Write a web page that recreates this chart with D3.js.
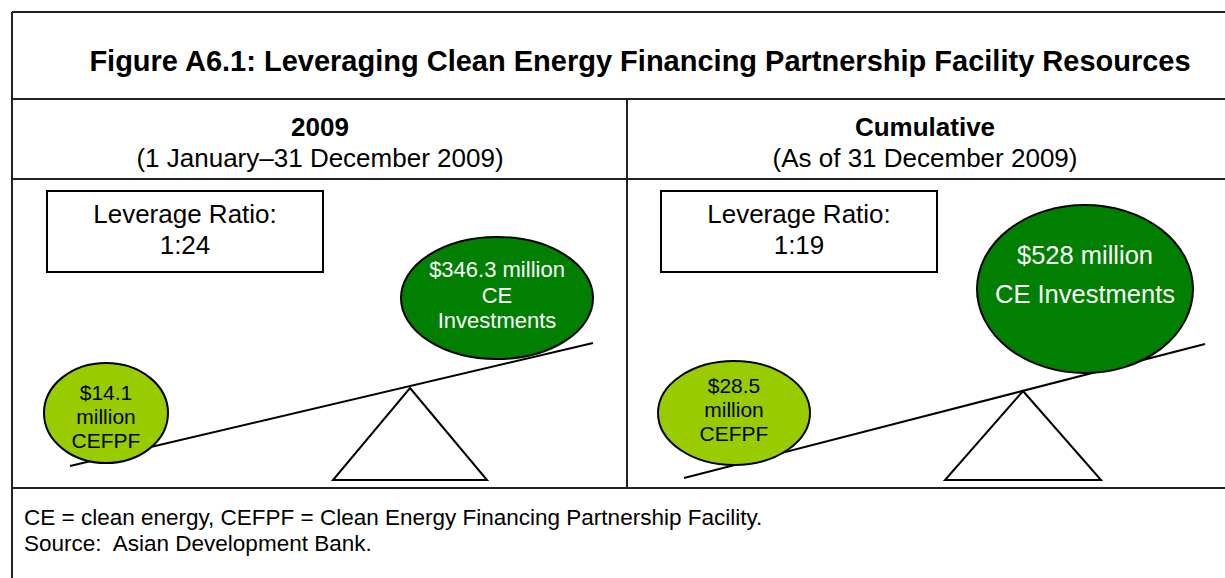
<!DOCTYPE html>
<html>
<head>
<meta charset="utf-8">
<script src="https://cdn.jsdelivr.net/npm/d3@7"></script>
<style>
  html, body { margin: 0; padding: 0; background: #ffffff; }
  svg { display: block; }
  text { font-family: "Liberation Sans", Arial, sans-serif; white-space: pre; }
</style>
</head>
<body>
<svg id="chart" width="1225" height="578"></svg>
<script>
// ---------------- data ----------------
const title = "Figure A6.1: Leveraging Clean Energy Financing Partnership Facility Resources";
const panels = ["2009", "Cumulative"];
const periods = ["(1 January\u201331 December 2009)", "(As of 31 December 2009)"];
const leverageRatios = ["1:24", "1:19"];
const cefpfValues = [14.1, 28.5];          // $ million, CEFPF
const ceInvestmentValues = [346.3, 528];   // $ million, CE investments
const notes = [
  "CE = clean energy, CEFPF = Clean Energy Financing Partnership Facility.",
  "Source:  Asian Development Bank."
];

// ---------------- layout (positions relative to each panel) ----------------
const layout = [
  { // 2009
    head: 308,
    box: { x: 35, y: 191, w: 276, h: 81, cx: 173 },
    beam: [[58, 466], [581, 343]],
    tri: { apex: [398, 388], half: 77, base: 480 },
    small: { cx: 94, cy: 413, rx: 62, ry: 50, lines: [400, 424, 448], size: 21 },
    big: { cx: 485, cy: 298, rx: 96, ry: 61, lines: [277, 303, 328], size: 22,
           text: v => ["$" + v + " million", "CE", "Investments"] }
  },
  { // Cumulative
    head: 298,
    box: { x: 34, y: 191, w: 276, h: 81, cx: 172 },
    beam: [[57, 478], [578, 344]],
    tri: { apex: [396, 391], half: 78, base: 480 },
    small: { cx: 107, cy: 413, rx: 76, ry: 52, lines: [393, 417, 441], size: 21 },
    big: { cx: 458, cy: 289, rx: 108, ry: 84, lines: [264, 303], size: 25.5,
           text: v => ["$" + v + " million", "CE Investments"] }
  }
];

const W = 1225, H = 578;
const frame = { left: 12, top: 12, right: 1242, titleBottom: 99, headBottom: 179, panelBottom: 488 };

const svg = d3.select("#chart");
svg.append("rect").attr("width", W).attr("height", H).attr("fill", "#fff");

const px = d3.scaleBand().domain(panels).range([frame.left, frame.right]).padding(0);

// frame lines
const g = svg.append("g").attr("stroke", "#222").attr("stroke-width", 2).attr("fill", "none");
g.append("line").attr("x1", frame.left).attr("x2", frame.left).attr("y1", frame.top).attr("y2", H + 2);
g.append("line").attr("x1", frame.left).attr("x2", W + 2).attr("y1", frame.top).attr("y2", frame.top);
g.append("line").attr("x1", frame.left).attr("x2", W + 2).attr("y1", frame.titleBottom).attr("y2", frame.titleBottom);
g.append("line").attr("x1", frame.left).attr("x2", W + 2).attr("y1", frame.headBottom).attr("y2", frame.headBottom);
g.append("line").attr("x1", frame.left).attr("x2", W + 2).attr("y1", frame.panelBottom).attr("y2", frame.panelBottom);
g.append("line").attr("x1", px("Cumulative")).attr("x2", px("Cumulative"))
  .attr("y1", frame.titleBottom).attr("y2", frame.panelBottom);

// title
svg.append("text").attr("x", 640).attr("y", 71).attr("text-anchor", "middle")
  .attr("font-size", 29).attr("font-weight", "bold").attr("fill", "#000").text(title);

// panels
panels.forEach((p, i) => {
  const x0 = px(p);
  const L = layout[i];
  const pg = svg.append("g").attr("transform", `translate(${x0},0)`);

  pg.append("text").attr("x", L.head).attr("y", 136).attr("text-anchor", "middle")
    .attr("font-size", 26).attr("font-weight", "bold").text(p);
  pg.append("text").attr("x", L.head).attr("y", 167).attr("text-anchor", "middle")
    .attr("font-size", 26).text(periods[i]);

  // leverage box
  pg.append("rect").attr("x", L.box.x).attr("y", L.box.y).attr("width", L.box.w).attr("height", L.box.h)
    .attr("fill", "#fff").attr("stroke", "#000").attr("stroke-width", 2);
  pg.append("text").attr("x", L.box.cx).attr("y", 223).attr("text-anchor", "middle")
    .attr("font-size", 26).text("Leverage Ratio:");
  pg.append("text").attr("x", L.box.cx).attr("y", 254).attr("text-anchor", "middle")
    .attr("font-size", 26).text(leverageRatios[i]);

  // triangle fulcrum
  const t = L.tri;
  pg.append("path")
    .attr("d", d3.line()([t.apex, [t.apex[0] + t.half, t.base], [t.apex[0] - t.half, t.base]]) + "Z")
    .attr("fill", "#fff").attr("stroke", "#000").attr("stroke-width", 2).attr("stroke-linejoin", "miter");

  // beam
  pg.append("path").attr("d", d3.line()(L.beam)).attr("stroke", "#000").attr("stroke-width", 2).attr("fill", "none");

  // small ellipse (CEFPF)
  const s = L.small;
  pg.append("ellipse").attr("cx", s.cx).attr("cy", s.cy).attr("rx", s.rx).attr("ry", s.ry)
    .attr("fill", "#99cc00").attr("stroke", "#000").attr("stroke-width", 2);
  ["$" + cefpfValues[i], "million", "CEFPF"].forEach((txt, k) => {
    pg.append("text").attr("x", s.cx).attr("y", s.lines[k]).attr("text-anchor", "middle")
      .attr("font-size", s.size).attr("fill", "#000").text(txt);
  });

  // big ellipse (CE investments)
  const b = L.big;
  pg.append("ellipse").attr("cx", b.cx).attr("cy", b.cy).attr("rx", b.rx).attr("ry", b.ry)
    .attr("fill", "#007f00").attr("stroke", "#000").attr("stroke-width", 2);
  b.text(ceInvestmentValues[i]).forEach((txt, k) => {
    pg.append("text").attr("x", b.cx).attr("y", b.lines[k]).attr("text-anchor", "middle")
      .attr("font-size", b.size).attr("fill", "#fff").text(txt);
  });
});

// notes
notes.forEach((n, k) => {
  svg.append("text").attr("x", 24).attr("y", 525 + k * 26).attr("font-size", 22.5)
    .attr("fill", "#000").attr("xml:space", "preserve").text(n);
});
</script>
</body>
</html>
